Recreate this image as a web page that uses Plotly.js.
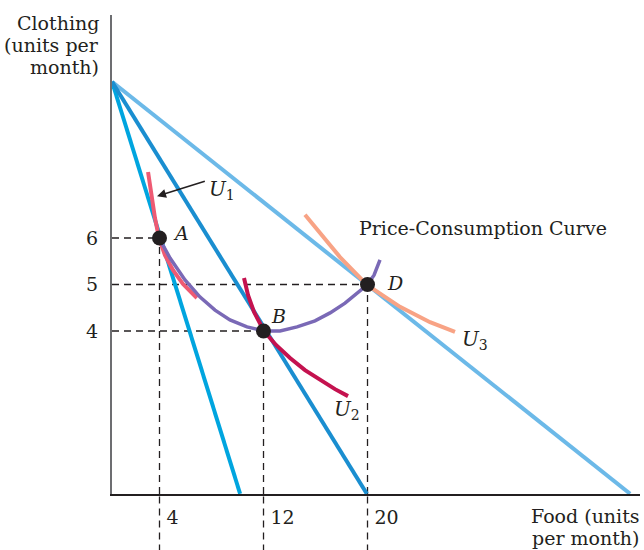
<!DOCTYPE html>
<html>
<head>
<meta charset="utf-8">
<script src="https://cdn.plot.ly/plotly-3.0.1.min.js"></script>
<style>html,body{margin:0;padding:0;background:#fff;}#chart{width:644px;height:550px;}</style>
</head>
<body>
<div id="chart"></div>
<script>
// Budget lines (food, clothing)
const budget1Food = [0.35, 10.2];
const budget1Clothing = [9.36, 0.5];
const budget2Food = [0.35, 19.95];
const budget2Clothing = [9.36, 0.5];
const budget3Food = [0.35, 40.2];
const budget3Clothing = [9.36, 0.5];

// Indifference curves
const u1Food = [3.12, 3.35, 3.65, 3.96, 4.42, 5.04, 5.81, 6.88];
const u1Clothing = [7.42, 6.93, 6.43, 6.0, 5.63, 5.31, 5.01, 4.71];
const u2Food = [10.5, 10.81, 11.27, 12.04, 12.96, 14.04, 15.19, 16.35, 17.5, 18.5];
const u2Clothing = [5.14, 4.77, 4.41, 4.0, 3.70, 3.42, 3.16, 2.95, 2.75, 2.60];
const u3Food = [15.19, 16.58, 17.88, 19.96, 22.5, 24.81, 26.73];
const u3Clothing = [6.50, 6.02, 5.59, 4.99, 4.52, 4.19, 3.98];

// Price-consumption curve
const pccFood = [3.96, 4.81, 5.96, 7.12, 8.27, 9.42, 10.73, 12.04, 13.27, 14.58, 15.96, 17.12, 18.27, 19.19, 19.96, 20.5, 20.96];
const pccClothing = [6.0, 5.57, 5.10, 4.73, 4.45, 4.24, 4.09, 4.0, 4.0, 4.09, 4.22, 4.39, 4.60, 4.80, 4.99, 5.20, 5.53];

// Optimal points
const pointFood = [4, 12, 20];
const pointClothing = [6, 4, 5];
const pointLabels = ['A', 'B', 'D'];

// Tick labels
const xTickVals = [4, 12, 20];
const xTickText = ['4', '12', '20'];
const yTickVals = [4, 5, 6];
const yTickText = ['4', '5', '6'];

// Axis titles (one entry per line)
const yTitleLines = ['Clothing', '(units per', 'month)'];
const xTitleLines = ['Food (units', 'per month)'];

const X_RANGE = [0.346, 40.96];
const Y_RANGE = [0.495, 10.796];

const FONT = 'DejaVu Serif, serif';
const FS = 19;
const TXT = '#231f20';

const line = (x, y, color, w) => ({x, y, mode: 'lines', type: 'scatter', hoverinfo: 'skip',
  line: {color, width: w || 4}, showlegend: false});

const traces = [
  line(budget3Food, budget3Clothing, '#6cb9e8'),
  line(budget1Food, budget1Clothing, '#00a5df'),
  line(budget2Food, budget2Clothing, '#1a8ed0'),
  line(u1Food, u1Clothing, '#ee5a73'),
  line(u2Food, u2Clothing, '#c4124f'),
  line(u3Food, u3Clothing, '#f8a385'),
  line(pccFood, pccClothing, '#7a69b6', 3.5),
  {x: pointFood, y: pointClothing, mode: 'markers', type: 'scatter', hoverinfo: 'skip',
   marker: {color: '#231f20', size: 15}, showlegend: false}
];

const dash = {color: '#231f20', width: 1.3, dash: '7px,5px'};
const shapes = [];
pointFood.forEach((fx, i) => {
  const cy = pointClothing[i];
  shapes.push({type: 'line', xref: 'x', yref: 'y', x0: X_RANGE[0], x1: fx, y0: cy, y1: cy, line: dash, layer: 'below'});
  shapes.push({type: 'line', xref: 'x', yref: 'paper', x0: fx, x1: fx, y0: -0.12, y1: 0, line: dash, layer: 'below'});
  shapes.push({type: 'line', xref: 'x', yref: 'y', x0: fx, x1: fx, y0: Y_RANGE[0], y1: cy, line: dash, layer: 'below'});
});

const labelPos = [[5.67, 6.11], [13.19, 4.32], [22.12, 5.03]];
const annotations = pointLabels.map((t, i) => ({
  x: labelPos[i][0], y: labelPos[i][1], xref: 'x', yref: 'y', text: '<i>' + t + '</i>',
  showarrow: false, font: {family: FONT, size: FS, color: TXT}
}));
annotations.push(
  {x: 8.81, y: 7.03, xref: 'x', yref: 'y', text: '<i>U</i><sub>1</sub>', showarrow: false,
   font: {family: FONT, size: 20, color: TXT}},
  {x: 18.42, y: 2.30, xref: 'x', yref: 'y', text: '<i>U</i><sub>2</sub>', showarrow: false,
   font: {family: FONT, size: 20, color: TXT}},
  {x: 28.27, y: 3.81, xref: 'x', yref: 'y', text: '<i>U</i><sub>3</sub>', showarrow: false,
   font: {family: FONT, size: 20, color: TXT}},
  {x: 3.81, y: 6.90, xref: 'x', yref: 'y', ax: 7.6, ay: 7.23, axref: 'x', ayref: 'y', text: '',
   showarrow: true, arrowhead: 2, arrowsize: 1.2, arrowwidth: 1.5, arrowcolor: TXT},
  {x: 19.2, y: 6.215, xref: 'x', yref: 'y', xanchor: 'left', text: 'Price-Consumption Curve',
   showarrow: false, font: {family: FONT, size: FS, color: TXT}}
);
const yTitleY = [0.9833, 0.9374, 0.8914];
yTitleLines.forEach((t, i) => annotations.push({x: -0.0227, y: yTitleY[i], xref: 'paper', yref: 'paper',
  xanchor: 'right', yanchor: 'middle', borderpad: 0, text: t, showarrow: false,
  font: {family: FONT, size: FS, color: TXT}}));
const xTitleY = [-0.0459, -0.0919];
xTitleLines.forEach((t, i) => annotations.push({x: 1.002, y: xTitleY[i], xref: 'paper', yref: 'paper',
  xanchor: 'right', yanchor: 'middle', borderpad: 0, text: t, showarrow: false,
  font: {family: FONT, size: FS, color: TXT}}));

const layout = {
  width: 644, height: 550,
  margin: {l: 112, r: 4, t: 15, b: 56},
  paper_bgcolor: '#fff', plot_bgcolor: '#fff',
  showlegend: false,
  xaxis: {range: X_RANGE, showgrid: false, zeroline: false, showline: true,
    linecolor: '#231f20', linewidth: 2, tickvals: xTickVals, ticktext: xTickText, ticks: '',
    ticklabelposition: 'outside right', ticklabelstandoff: 5, ticklabelshift: 6,
    tickfont: {family: FONT, size: FS, color: TXT}, fixedrange: true},
  yaxis: {range: Y_RANGE, showgrid: false, zeroline: false, showline: true,
    linecolor: '#6d6e71', linewidth: 2, tickvals: yTickVals, ticktext: yTickText, ticks: '',
    ticklabelstandoff: 8, tickfont: {family: FONT, size: FS, color: TXT}, fixedrange: true},
  shapes, annotations
};

Plotly.newPlot('chart', traces, layout, {staticPlot: true, displayModeBar: false});
</script>
</body>
</html>
